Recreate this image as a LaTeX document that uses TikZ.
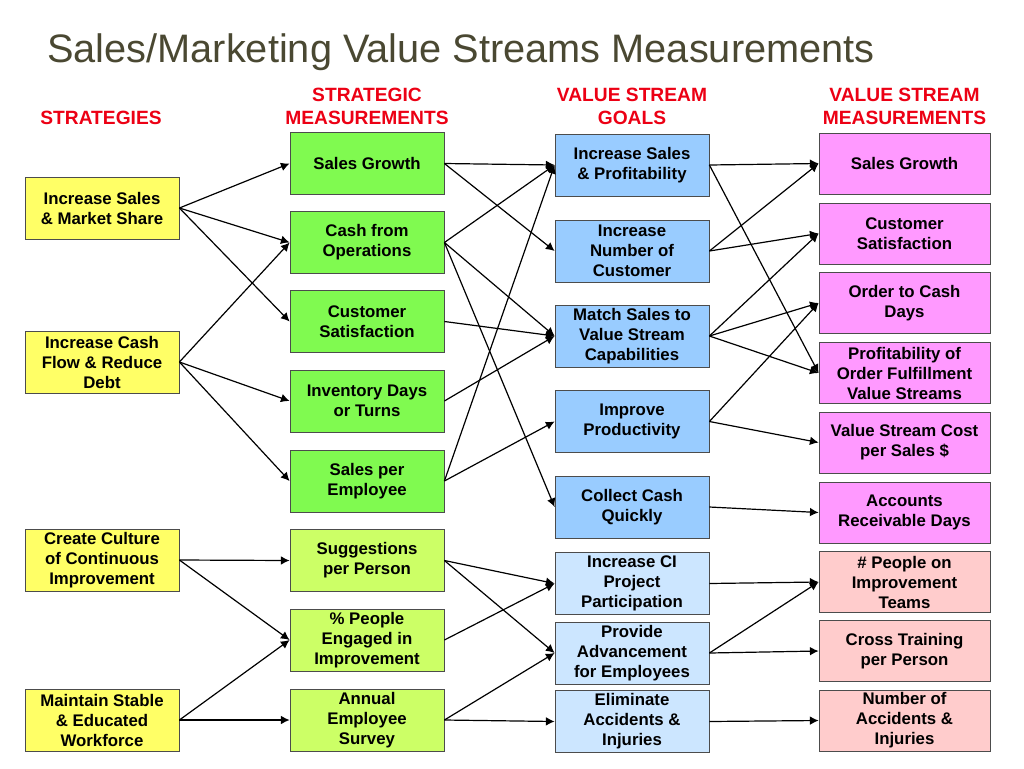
\documentclass[tikz,border=0pt]{standalone}
\usepackage{fontspec}
\setmainfont{Liberation Sans}
\usetikzlibrary{arrows.meta}
\definecolor{titleolive}{RGB}{74,72,50}
\definecolor{headred}{RGB}{236,0,20}
\definecolor{stratyellow}{RGB}{255,255,102}
\definecolor{measgreen}{RGB}{128,250,80}
\definecolor{limegreen}{RGB}{204,255,102}
\definecolor{goalblue}{RGB}{153,204,255}
\definecolor{paleblue}{RGB}{204,230,255}
\definecolor{vsmagenta}{RGB}{255,153,255}
\definecolor{vspink}{RGB}{255,204,204}
\begin{document}
\begin{tikzpicture}[
            x=0.75pt, y=-0.75pt,
            box/.style={draw=black!70, line width=0.6pt, inner sep=0pt, align=center,
                minimum width=115.5pt, minimum height=46.5pt,
                font=\fontsize{12.6}{15}\selectfont\bfseries},
            strategy/.style={box, fill=stratyellow},
            measure/.style={box, fill=measgreen},
            culture/.style={box, fill=limegreen},
            goal/.style={box, fill=goalblue},
            palegoal/.style={box, fill=paleblue},
            vsmeasure/.style={box, fill=vsmagenta, minimum width=128.25pt, minimum height=45.75pt},
            vspeople/.style={box, fill=vspink, minimum width=128.25pt, minimum height=45.75pt},
            head/.style={text=headred, align=center, font=\fontsize{14.4}{17.25}\selectfont\bfseries},
            link/.style={-{Latex[length=6.5pt,width=6.5pt]}, line width=0.9pt}
            ]
        \useasboundingbox (0,0) rectangle (1024,768);
        \node[anchor=base west, inner sep=0pt, text=titleolive, font=\fontsize{29.8}{34}\selectfont] (title) at (47,62)
            {Sales/Marketing Value Streams Measurements};
        \node[head] (hstrat) at (101,118) {STRATEGIES};
        \node[head] (hmeas) at (367,106.5) {STRATEGIC\\MEASUREMENTS};
        \node[head] (hgoal) at (632,106.5) {VALUE STREAM\\GOALS};
        \node[head] (hvs) at (904.5,106.5) {VALUE STREAM\\MEASUREMENTS};

        \node[strategy] (s1) at (102,208) {Increase Sales\\\& Market Share};
        \node[strategy] (s2) at (102,362) {Increase Cash\\Flow \& Reduce\\Debt};
        \node[strategy] (s3) at (102,560) {Create Culture\\of Continuous\\Improvement};
        \node[strategy] (s4) at (102,720) {Maintain Stable\\\& Educated\\Workforce};

        \node[measure] (m1) at (367,163.5) {Sales Growth};
        \node[measure] (m2) at (367,242.5) {Cash from\\Operations};
        \node[measure] (m3) at (367,321.5) {Customer\\Satisfaction};
        \node[measure] (m4) at (367,401) {Inventory Days\\or Turns};
        \node[measure] (m5) at (367,481) {Sales per\\Employee};
        \node[culture] (m6) at (367,560.5) {Suggestions\\per Person};
        \node[culture] (m7) at (367,640) {\% People\\Engaged in\\Improvement};
        \node[culture] (m8) at (367,720) {Annual\\Employee\\Survey};

        \node[goal] (g1) at (632,165) {Increase Sales\\\& Profitability};
        \node[goal] (g2) at (632,251) {Increase\\Number of\\Customer};
        \node[goal] (g3) at (632,336) {Match Sales to\\Value Stream\\Capabilities};
        \node[goal] (g4) at (632,421.5) {Improve\\Productivity};
        \node[goal] (g5) at (632,507) {Collect Cash\\Quickly};
        \node[palegoal] (g6) at (632,583.5) {Increase CI\\Project\\Participation};
        \node[palegoal] (g7) at (632,653) {Provide\\Advancement\\for Employees};
        \node[palegoal] (g8) at (632,721.5) {Eliminate\\Accidents \&\\Injuries};

        \node[vsmeasure] (v1) at (904.5,163.5) {Sales Growth};
        \node[vsmeasure] (v2) at (904.5,233.5) {Customer\\Satisfaction};
        \node[vsmeasure] (v3) at (904.5,303) {Order to Cash\\Days};
        \node[vsmeasure] (v4) at (904.5,373) {Profitability of\\Order Fulfillment\\Value Streams};
        \node[vsmeasure] (v5) at (904.5,442.5) {Value Stream Cost\\per Sales \$};
        \node[vsmeasure] (v6) at (904.5,512.5) {Accounts\\Receivable Days};
        \node[vspeople] (v7) at (904.5,582) {\# People on\\Improvement\\Teams};
        \node[vspeople] (v8) at (904.5,651) {Cross Training\\per Person};
        \node[vspeople] (v9) at (904.5,720.5) {Number of\\Accidents \&\\Injuries};

        \foreach \from/\to in {s1/m1, s1/m2, s1/m3, s2/m2, s2/m4, s2/m5, s3/m6, s3/m7, s4/m7, s4/m8,
                m1/g1, m1/g2, m2/g1, m2/g3, m2/g5, m3/g3, m4/g3, m5/g1, m5/g4,
                m6/g6, m6/g7, m7/g6, m8/g7, m8/g8,
                g1/v1, g1/v4, g2/v1, g2/v2, g3/v2, g3/v3, g3/v4, g4/v3, g4/v5,
                g5/v6, g6/v7, g7/v7, g7/v8, g8/v9}
            \draw[link] (\from.east) -- (\to.west);
        \end{tikzpicture}
\end{document}
